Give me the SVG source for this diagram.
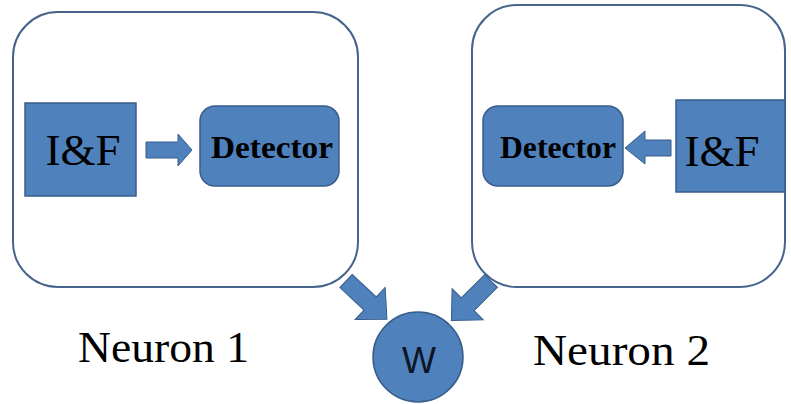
<svg xmlns="http://www.w3.org/2000/svg" width="791" height="404" viewBox="0 0 791 404">
<style>
.frame{fill:#ffffff;stroke:#46648c;stroke-width:2}
.blk{fill:#4f81bd;stroke:#385d8a;stroke-width:1.5}
.arr{fill:#4f81bd;stroke:#385d8a;stroke-width:1}
</style>
<rect width="791" height="404" fill="#ffffff"/>
<g id="neuron1">
<rect class="frame" x="13" y="12" width="345" height="275" rx="45" ry="45"/>
</g>
<g id="neuron2">
<rect class="frame" x="472" y="5" width="313" height="282" rx="45" ry="45"/>
</g>
<g font-family="'Liberation Serif', 'DejaVu Serif', 'Times New Roman', serif" fill="#000000">
<g id="if1">
<rect class="blk" x="25" y="103" width="111" height="93"/>
<text x="83" y="165" font-size="45" text-anchor="middle">I&amp;F</text>
</g>
<g id="detector1">
<rect class="blk" x="200" y="106" width="139" height="80" rx="15" ry="15"/>
<text x="272" y="158" font-size="32" font-weight="bold" text-anchor="middle" textLength="122" lengthAdjust="spacingAndGlyphs">Detector</text>
</g>
<g id="if2">
<rect class="blk" x="676" y="100" width="109" height="92"/>
<text x="722" y="166" font-size="45" text-anchor="middle">I&amp;F</text>
</g>
<g id="detector2">
<rect class="blk" x="483" y="106" width="140" height="80" rx="15" ry="15"/>
<text x="558" y="158" font-size="32" font-weight="bold" text-anchor="middle" textLength="116" lengthAdjust="spacingAndGlyphs">Detector</text>
</g>
<g id="labels">
<text x="163.5" y="362" font-size="45" text-anchor="middle" textLength="171" lengthAdjust="spacingAndGlyphs">Neuron 1</text>
<text x="621.5" y="365" font-size="45" text-anchor="middle" textLength="177" lengthAdjust="spacingAndGlyphs">Neuron 2</text>
</g>
</g>
<g id="w">
<circle class="blk" cx="418" cy="357" r="45"/>
<text x="419" y="373" font-family="'Liberation Sans', Arial, sans-serif" font-size="36" fill="#0d1526" text-anchor="middle">W</text>
</g>
<g id="connectors">
<path class="arr" d="M146,142 L178,142 L178,134 L192,150 L178,166 L178,158 L146,158 Z"/>
<path class="arr" d="M671,140 L645,140 L645,131 L625,148 L645,164 L645,156 L671,156 Z"/>
<path class="arr" transform="translate(346,281) rotate(43)" d="M0,-9 L33,-9 L33,-22 L56,0 L33,22 L33,9 L0,9 Z"/>
<path class="arr" transform="translate(491,281) rotate(135)" d="M0,-9 L33,-9 L33,-22 L56,0 L33,22 L33,9 L0,9 Z"/>
</g>
</svg>
